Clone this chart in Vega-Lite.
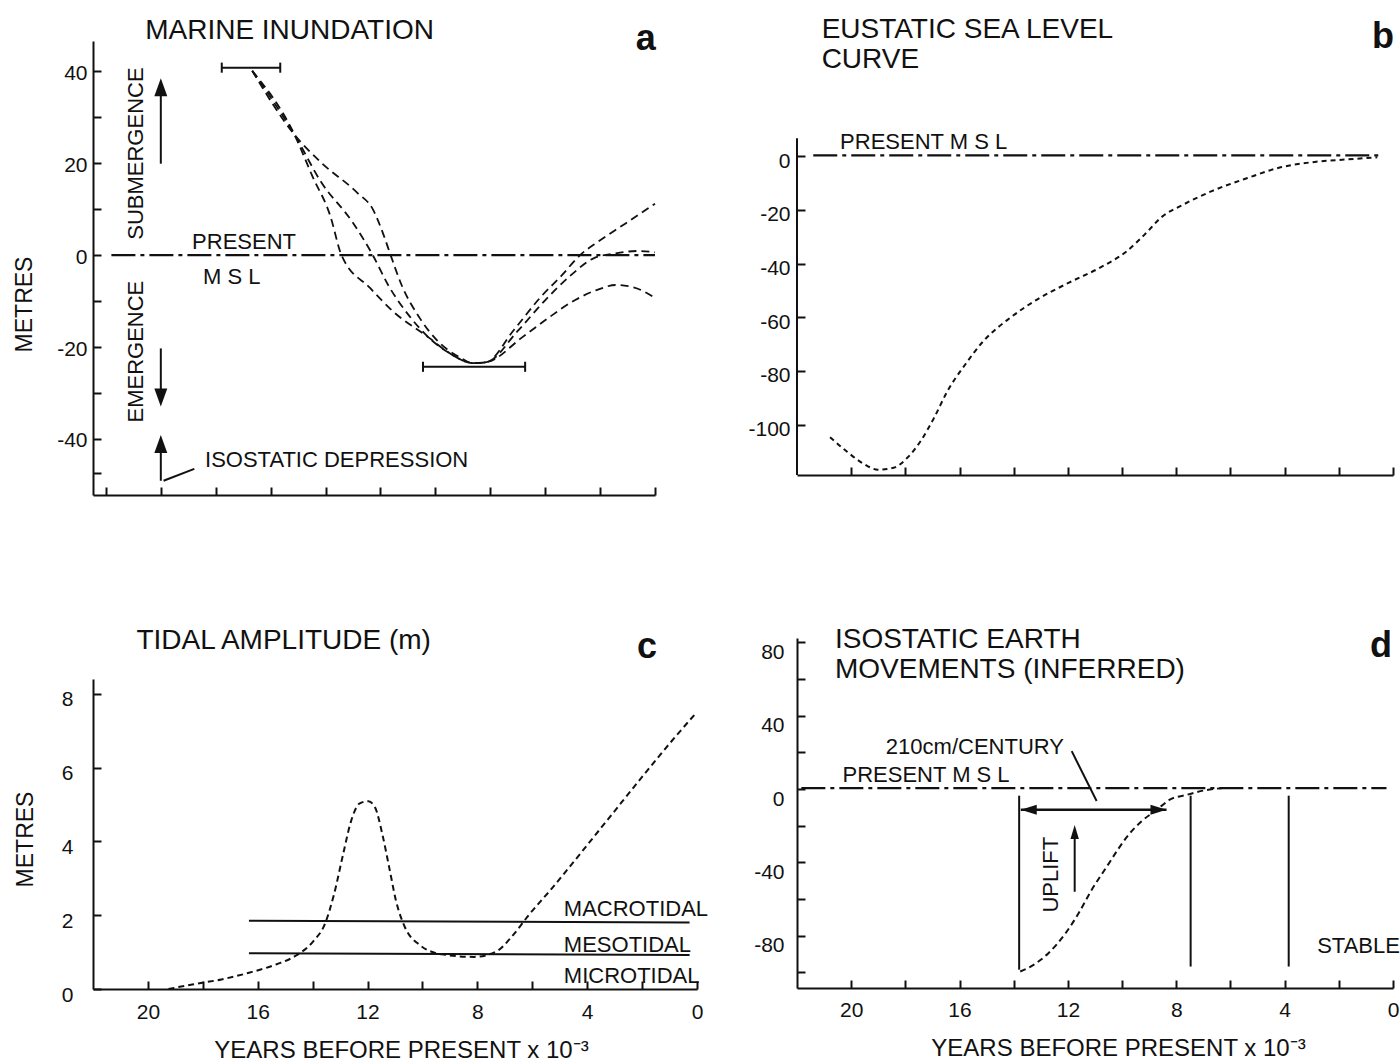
{
"$schema": "https://vega.github.io/schema/vega-lite/v6.json",
"background": "white",
"padding": {"left": 13, "top": 15, "right": 0, "bottom": 0},
"config": {
  "font": "Liberation Sans",
  "view": {"stroke": null},
  "axis": {"domainColor": "#111", "domainWidth": 2, "tickColor": "#111", "tickWidth": 2, "tickSize": -8, "labelColor": "#111", "labelFont": "Liberation Sans", "labelFontSize": 21, "titleFont": "Liberation Sans", "titleFontSize": 23, "titleFontWeight": "normal", "titleColor": "#111", "grid": false, "labelFlush": false, "labelOverlap": false},
  "text": {"font": "Liberation Sans", "fontSize": 22, "color": "#111"}
},
"datasets": {
  "a_curves": [
    {"s":"A","t":14.67,"m":40.1},{"s":"A","t":13.13,"m":26.2},{"s":"A","t":12.48,"m":17.2},{"s":"A","t":11.83,"m":8.6},{"s":"A","t":11.42,"m":0},{"s":"A","t":10.37,"m":-7.2},{"s":"A","t":9.55,"m":-12.2},{"s":"A","t":8.25,"m":-17.9},{"s":"A","t":7.44,"m":-21.5},{"s":"A","t":6.63,"m":-23.5},{"s":"A","t":6.14,"m":-23.3},{"s":"A","t":5.17,"m":-16.5},{"s":"A","t":4.19,"m":-9.3},{"s":"A","t":3.38,"m":-4.3},{"s":"A","t":2.73,"m":0},{"s":"A","t":2.08,"m":2.9},{"s":"A","t":1.1,"m":6.8},{"s":"A","t":0,"m":11.2},
    {"s":"B","t":14.67,"m":40.1},{"s":"B","t":13.13,"m":26.2},{"s":"B","t":12.15,"m":15.8},{"s":"B","t":11.02,"m":7.2},{"s":"B","t":10.28,"m":0},{"s":"B","t":9.72,"m":-6.5},{"s":"B","t":8.9,"m":-13.6},{"s":"B","t":8.25,"m":-17.9},{"s":"B","t":7.44,"m":-21.5},{"s":"B","t":6.63,"m":-23.5},{"s":"B","t":6.14,"m":-23.3},{"s":"B","t":5.0,"m":-16.5},{"s":"B","t":4.03,"m":-10.0},{"s":"B","t":3.05,"m":-4.3},{"s":"B","t":2.24,"m":-0.7},{"s":"B","t":1.43,"m":0.4},{"s":"B","t":0.62,"m":0.9},{"s":"B","t":0,"m":0.6},
    {"s":"C","t":14.67,"m":40.1},{"s":"C","t":13.13,"m":26.2},{"s":"C","t":12.15,"m":20.1},{"s":"C","t":10.85,"m":13.6},{"s":"C","t":10.28,"m":10.0},{"s":"C","t":9.88,"m":4.3},{"s":"C","t":9.63,"m":0},{"s":"C","t":9.23,"m":-6.5},{"s":"C","t":8.58,"m":-13.6},{"s":"C","t":7.93,"m":-18.6},{"s":"C","t":7.12,"m":-22.2},{"s":"C","t":6.63,"m":-23.5},{"s":"C","t":6.14,"m":-23.3},{"s":"C","t":4.84,"m":-17.9},{"s":"C","t":3.87,"m":-13.6},{"s":"C","t":2.89,"m":-9.7},{"s":"C","t":2.08,"m":-7.5},{"s":"C","t":1.43,"m":-6.5},{"s":"C","t":0.78,"m":-7.0},{"s":"C","t":0,"m":-9.3}
  ],
  "a_msl": [{"t":19.8,"m":0},{"t":0,"m":0}],
  "a_ebar": [{"t":15.78,"t2":13.65,"m":40.8},{"t":8.45,"t2":4.73,"m":-24.3}],
  "a_caps": [{"t":15.78,"m":39.7,"m2":41.9},{"t":13.65,"m":39.7,"m2":41.9},{"t":8.45,"m":-25.4,"m2":-23.2},{"t":4.73,"m":-25.4,"m2":-23.2}],
  "a_shafts": [{"t":18.0,"m":19.9,"m2":36.5},{"t":18.0,"m":-20.3,"m2":-31.0},{"t":18.0,"m":-49.1,"m2":-41.1}],
  "a_leader": [{"t":17.9,"m":-49.1,"t2":16.78,"m2":-46.5}],
  "a_heads_up": [{"t":18.0,"m":36.55},{"t":18.0,"m":-41.1}],
  "a_heads_down": [{"t":18.0,"m":-31.0}],
  "a_text": [{"t":16.86,"m":1.4,"label":"PRESENT"},{"t":16.46,"m":-6.2,"label":"M  S  L"},{"t":16.39,"m":-46.0,"label":"ISOSTATIC DEPRESSION"}],
  "a_vtext": [{"t":18.89,"m":22.1,"label":"SUBMERGENCE"},{"t":18.89,"m":-21.0,"label":"EMERGENCE"}],
  "a_title": [{"t":18.57,"m":47.1,"label":"MARINE INUNDATION"}],
  "a_letter": [{"t":0.34,"m":44.6,"label":"a"}],
  "b_curve": [
    {"t":20.78,"m":-104.7},{"t":20.25,"m":-109.3},{"t":19.59,"m":-114.3},{"t":19.01,"m":-116.8},{"t":18.43,"m":-116.1},{"t":17.93,"m":-112.4},{"t":17.44,"m":-106.2},{"t":16.94,"m":-97.5},{"t":16.45,"m":-87.6},{"t":15.79,"m":-77.6},{"t":15.12,"m":-68.9},{"t":14.13,"m":-60.2},{"t":13.14,"m":-53.4},{"t":11.98,"m":-47.2},{"t":10.83,"m":-41.6},{"t":9.83,"m":-35.4},{"t":9.17,"m":-29.2},{"t":8.51,"m":-22.4},{"t":7.85,"m":-18.6},{"t":6.69,"m":-13.0},{"t":5.37,"m":-8.1},{"t":4.21,"m":-4.3},{"t":2.89,"m":-2.1},{"t":1.74,"m":-1.2},{"t":0.58,"m":-0.4}
  ],
  "b_msl": [{"t":21.4,"m":0.3},{"t":0.45,"m":0.3}],
  "b_yaxis": [{"t":22,"m":-118.8,"m2":6.7}],
  "b_text": [{"t":20.41,"m":2.7,"label":"PRESENT  M S L"}],
  "b_title": [{"t":21.09,"m":44.1,"label":"EUSTATIC SEA LEVEL"},{"t":21.09,"m":32.9,"label":"CURVE"}],
  "b_letter": [{"t":0.37,"m":40.3,"label":"b"}],
  "c_curve": [
    {"t":19.25,"m":0.0},{"t":18.33,"m":0.13},{"t":17.32,"m":0.26},{"t":16.32,"m":0.44},{"t":15.31,"m":0.67},{"t":14.64,"m":0.89},{"t":13.97,"m":1.3},{"t":13.56,"m":1.75},{"t":13.22,"m":2.57},{"t":12.89,"m":3.65},{"t":12.6,"m":4.55},{"t":12.3,"m":5.02},{"t":11.97,"m":5.09},{"t":11.72,"m":4.91},{"t":11.46,"m":4.19},{"t":11.21,"m":3.29},{"t":10.96,"m":2.38},{"t":10.63,"m":1.66},{"t":10.13,"m":1.21},{"t":9.29,"m":0.94},{"t":8.12,"m":0.87},{"t":7.28,"m":1.03},{"t":6.78,"m":1.39},{"t":6.11,"m":2.02},{"t":5.27,"m":2.74},{"t":4.27,"m":3.65},{"t":3.1,"m":4.73},{"t":1.92,"m":5.82},{"t":0.92,"m":6.72},{"t":0.08,"m":7.44}
  ],
  "c_lines": [{"s":"macro","t":16.32,"m":1.85},{"s":"macro","t":0.27,"m":1.8},{"s":"meso","t":16.32,"m":0.97},{"s":"meso","t":0.27,"m":0.92}],
  "c_text": [{"t":4.85,"m":1.98,"label":"MACROTIDAL"},{"t":4.85,"m":0.99,"label":"MESOTIDAL"},{"t":4.85,"m":0.16,"label":"MICROTIDAL"}],
  "c_title": [{"t":20.42,"m":9.21,"label":"TIDAL AMPLITUDE (m)"}],
  "c_letter": [{"t":1.82,"m":8.97,"label":"c"}],
  "d_curve": [
    {"t":13.76,"m":-99.5},{"t":13.36,"m":-96.7},{"t":12.72,"m":-89.5},{"t":12.08,"m":-78.5},{"t":11.6,"m":-67.6},{"t":11.12,"m":-54.9},{"t":10.56,"m":-42.2},{"t":10.16,"m":-33.1},{"t":9.76,"m":-24.9},{"t":9.28,"m":-17.6},{"t":8.72,"m":-11.3},{"t":8.24,"m":-5.8},{"t":7.6,"m":-3.1},{"t":6.96,"m":-0.7},{"t":6.32,"m":0.5}
  ],
  "d_msl": [{"t":21.84,"m":0.5},{"t":0.24,"m":0.5}],
  "d_vlines": [{"t":13.8,"m":-3.6,"m2":-98.5},{"t":7.47,"m":-3.6,"m2":-96.8},{"t":3.85,"m":-3.6,"m2":-96.8},{"t":11.75,"m":-56.0,"m2":-23.0}],
  "d_harrow": [{"t":13.74,"t2":8.36,"m":-11.3}],
  "d_leader": [{"t":11.86,"m":20.7,"t2":10.94,"m2":-6.5}],
  "d_heads_left": [{"t":13.445,"m":-11.3}],
  "d_heads_right": [{"t":8.655,"m":-11.3}],
  "d_heads_up": [{"t":11.75,"m":-23.4}],
  "d_text": [{"t":18.72,"m":19.3,"label":"210cm/CENTURY"},{"t":20.32,"m":3.6,"label":"PRESENT  M S L"},{"t":2.8,"m":-89.3,"label":"STABLE"}],
  "d_vtext": [{"t":12.64,"m":-46.7,"label":"UPLIFT"}],
  "d_title": [{"t":20.6,"m":76.9,"label":"ISOSTATIC EARTH"},{"t":20.6,"m":60.5,"label":"MOVEMENTS (INFERRED)"}],
  "d_letter": [{"t":0.44,"m":72.2,"label":"d"}]
},
"spacing": 38,
"hconcat": [
  {
    "spacing": 131,
    "vconcat": [
      {
        "width": 562, "height": 454,
        "encoding": {
          "x": {"field": "t", "type": "quantitative", "scale": {"domain": [0, 20.47], "reverse": true, "nice": false, "zero": false},
                "axis": {"values": [0,2,4,6,8,10,12,14,16,18,20], "labels": false, "title": null}},
          "y": {"field": "m", "type": "quantitative", "scale": {"domain": [-52.2, 46.6], "nice": false, "zero": false},
                "axis": {"values": [40,30,20,10,0,-10,-20,-30,-40,-47.5], "labelExpr": "datum.value % 20 === 0 ? replace(datum.label, '\u2212', '-') : ''", "title": "METRES", "titleY": 263, "titlePadding": 20, "labelPadding": 14, "labelOffset": 2}}
        },
        "layer": [
          {"data": {"name": "a_curves"}, "mark": {"type": "line", "strokeDash": [8,5], "strokeWidth": 1.8, "color": "#111", "interpolate": "monotone"}, "encoding": {"detail": {"field": "s"}}},
          {"data": {"name": "a_msl"}, "mark": {"type": "line", "strokeDash": [24,5,4,5], "strokeWidth": 2.2, "color": "#111"}, "encoding": {}},
          {"data": {"name": "a_ebar"}, "mark": {"type": "rule", "strokeWidth": 2, "color": "#111"}, "encoding": {"x2": {"field": "t2"}}},
          {"data": {"name": "a_caps"}, "mark": {"type": "rule", "strokeWidth": 2, "color": "#111"}, "encoding": {"y2": {"field": "m2"}}},
          {"data": {"name": "a_shafts"}, "mark": {"type": "rule", "strokeWidth": 2, "color": "#111"}, "encoding": {"y2": {"field": "m2"}}},
          {"data": {"name": "a_leader"}, "mark": {"type": "rule", "strokeWidth": 2, "color": "#111"}, "encoding": {"x2": {"field": "t2"}, "y2": {"field": "m2"}}},
          {"data": {"name": "a_heads_up"}, "mark": {"type": "point", "shape": "M0,-1L0.72,1L-0.72,1Z", "filled": true, "size": 324, "color": "#111", "opacity": 1, "strokeWidth": 0}},
          {"data": {"name": "a_heads_down"}, "mark": {"type": "point", "shape": "M0,-1L0.72,1L-0.72,1Z", "angle": 180, "filled": true, "size": 324, "color": "#111", "opacity": 1, "strokeWidth": 0}},
          {"data": {"name": "a_text"}, "mark": {"type": "text", "align": "left", "baseline": "alphabetic", "fontSize": 22}, "encoding": {"text": {"field": "label"}}},
          {"data": {"name": "a_vtext"}, "mark": {"type": "text", "angle": 270, "align": "center", "baseline": "middle", "fontSize": 22}, "encoding": {"text": {"field": "label"}}},
          {"data": {"name": "a_title"}, "mark": {"type": "text", "align": "left", "baseline": "alphabetic", "fontSize": 28}, "encoding": {"text": {"field": "label"}}},
          {"data": {"name": "a_letter"}, "mark": {"type": "text", "align": "center", "baseline": "alphabetic", "fontSize": 36, "fontWeight": "bold"}, "encoding": {"text": {"field": "label"}}}
        ]
      },
      {
        "width": 604, "height": 310,
        "encoding": {
          "x": {"field": "t", "type": "quantitative", "scale": {"domain": [0, 22], "reverse": true, "nice": false, "zero": false},
                "axis": {"values": [0,2,4,6,8,10,12,14,16,18,20], "labelExpr": "datum.value % 4 === 0 ? datum.label : ''", "labelPadding": 20, "title": "YEARS BEFORE PRESENT x 10⁻³", "titleFontSize": 24, "titlePadding": 16, "titleX": 308}},
          "y": {"field": "m", "type": "quantitative", "scale": {"domain": [0, 8.4], "nice": false, "zero": false},
                "axis": {"values": [0,2,4,6,8], "title": "METRES", "titleY": 160, "titlePadding": 24, "labelPadding": 28, "labelOffset": 6}}
        },
        "layer": [
          {"data": {"name": "c_curve"}, "mark": {"type": "line", "strokeDash": [6,4], "strokeWidth": 2, "color": "#111", "interpolate": "monotone"}, "encoding": {}},
          {"data": {"name": "c_lines"}, "mark": {"type": "line", "strokeWidth": 2, "color": "#111"}, "encoding": {"detail": {"field": "s"}}},
          {"data": {"name": "c_text"}, "mark": {"type": "text", "align": "left", "baseline": "alphabetic", "fontSize": 22}, "encoding": {"text": {"field": "label"}}},
          {"data": {"name": "c_title"}, "mark": {"type": "text", "align": "left", "baseline": "alphabetic", "fontSize": 28}, "encoding": {"text": {"field": "label"}}},
          {"data": {"name": "c_letter"}, "mark": {"type": "text", "align": "center", "baseline": "alphabetic", "fontSize": 36, "fontWeight": "bold"}, "encoding": {"text": {"field": "label"}}}
        ]
      }
    ]
  },
  {
    "spacing": 150,
    "vconcat": [
      {
        "width": 596, "height": 434,
        "encoding": {
          "x": {"field": "t", "type": "quantitative", "scale": {"domain": [0, 22], "reverse": true, "nice": false, "zero": false},
                "axis": {"values": [0,2,4,6,8,10,12,14,16,18,20], "labels": false, "title": null}},
          "y": {"field": "m", "type": "quantitative", "scale": {"domain": [-118.8, 42.96], "nice": false, "zero": false},
                "axis": {"values": [0,-20,-40,-60,-80,-100], "labelExpr": "replace(datum.label, '\u2212', '-')", "title": null, "domain": false, "labelPadding": 15, "labelOffset": 5}}
        },
        "layer": [
          {"data": {"name": "b_yaxis"}, "mark": {"type": "rule", "strokeWidth": 2, "color": "#111"}, "encoding": {"y2": {"field": "m2"}}},
          {"data": {"name": "b_curve"}, "mark": {"type": "line", "strokeDash": [5,4], "strokeWidth": 2, "color": "#111", "interpolate": "monotone"}, "encoding": {}},
          {"data": {"name": "b_msl"}, "mark": {"type": "line", "strokeDash": [24,5,4,5], "strokeWidth": 2.2, "color": "#111"}, "encoding": {}},
          {"data": {"name": "b_text"}, "mark": {"type": "text", "align": "left", "baseline": "alphabetic", "fontSize": 22}, "encoding": {"text": {"field": "label"}}},
          {"data": {"name": "b_title"}, "mark": {"type": "text", "align": "left", "baseline": "alphabetic", "fontSize": 28}, "encoding": {"text": {"field": "label"}}},
          {"data": {"name": "b_letter"}, "mark": {"type": "text", "align": "center", "baseline": "alphabetic", "fontSize": 36, "fontWeight": "bold"}, "encoding": {"text": {"field": "label"}}}
        ]
      },
      {
        "width": 596, "height": 350,
        "encoding": {
          "x": {"field": "t", "type": "quantitative", "scale": {"domain": [0, 22], "reverse": true, "nice": false, "zero": false},
                "axis": {"values": [0,2,4,6,8,10,12,14,16,18,20], "labelExpr": "datum.value % 4 === 0 ? datum.label : ''", "labelPadding": 19, "title": "YEARS BEFORE PRESENT x 10⁻³", "titleFontSize": 24, "titlePadding": 16, "titleX": 321}},
          "y": {"field": "m", "type": "quantitative", "scale": {"domain": [-108.5, 82.4], "nice": false, "zero": false},
                "axis": {"values": [80,60,40,20,0,-20,-40,-60,-80,-100], "labelExpr": "datum.value % 40 === 0 ? replace(datum.label, '\u2212', '-') : ''", "title": null, "labelPadding": 21, "labelOffset": 10}}
        },
        "layer": [
          {"data": {"name": "d_curve"}, "mark": {"type": "line", "strokeDash": [6,4], "strokeWidth": 2, "color": "#111", "interpolate": "monotone"}, "encoding": {}},
          {"data": {"name": "d_msl"}, "mark": {"type": "line", "strokeDash": [24,5,4,5], "strokeWidth": 2.2, "color": "#111"}, "encoding": {}},
          {"data": {"name": "d_vlines"}, "mark": {"type": "rule", "strokeWidth": 2, "color": "#111"}, "encoding": {"y2": {"field": "m2"}}},
          {"data": {"name": "d_harrow"}, "mark": {"type": "rule", "strokeWidth": 2.5, "color": "#111"}, "encoding": {"x2": {"field": "t2"}}},
          {"data": {"name": "d_leader"}, "mark": {"type": "rule", "strokeWidth": 2, "color": "#111"}, "encoding": {"x2": {"field": "t2"}, "y2": {"field": "m2"}}},
          {"data": {"name": "d_heads_left"}, "mark": {"type": "point", "shape": "M0,-1L0.62,1L-0.62,1Z", "angle": 270, "filled": true, "size": 256, "color": "#111", "opacity": 1, "strokeWidth": 0}},
          {"data": {"name": "d_heads_right"}, "mark": {"type": "point", "shape": "M0,-1L0.62,1L-0.62,1Z", "angle": 90, "filled": true, "size": 256, "color": "#111", "opacity": 1, "strokeWidth": 0}},
          {"data": {"name": "d_heads_up"}, "mark": {"type": "point", "shape": "M0,-1L0.6,1L-0.6,1Z", "filled": true, "size": 196, "color": "#111", "opacity": 1, "strokeWidth": 0}},
          {"data": {"name": "d_text"}, "mark": {"type": "text", "align": "left", "baseline": "alphabetic", "fontSize": 22}, "encoding": {"text": {"field": "label"}}},
          {"data": {"name": "d_vtext"}, "mark": {"type": "text", "angle": 270, "align": "center", "baseline": "middle", "fontSize": 22}, "encoding": {"text": {"field": "label"}}},
          {"data": {"name": "d_title"}, "mark": {"type": "text", "align": "left", "baseline": "alphabetic", "fontSize": 28}, "encoding": {"text": {"field": "label"}}},
          {"data": {"name": "d_letter"}, "mark": {"type": "text", "align": "center", "baseline": "alphabetic", "fontSize": 36, "fontWeight": "bold"}, "encoding": {"text": {"field": "label"}}}
        ]
      }
    ]
  }
]
}
